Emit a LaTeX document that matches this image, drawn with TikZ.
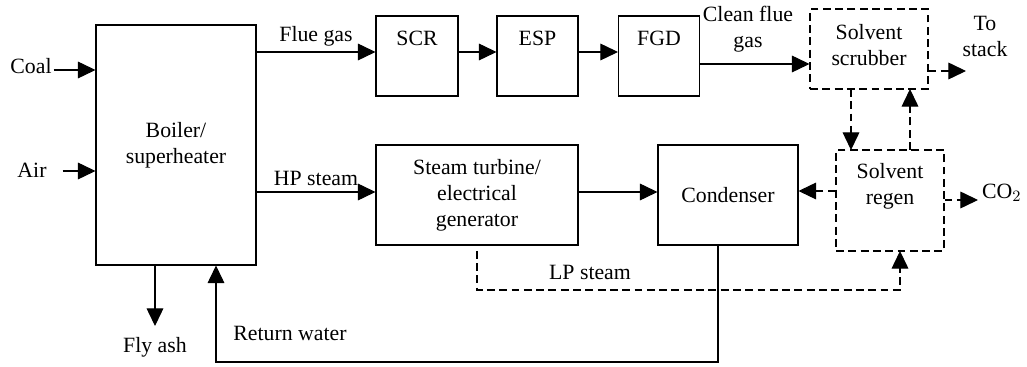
\documentclass[tikz,border=0pt]{standalone}
\usepackage{fontspec}
\setmainfont{Liberation Serif}
\usetikzlibrary{arrows.meta,calc}

\begin{document}
\begin{tikzpicture}[
  x=0.02cm, y=-0.02cm,
  font=\fontsize{12.4pt}{14.8pt}\selectfont,
  unit/.style={rectangle, draw, line width=0.6pt, align=center, inner sep=2pt},
  dunit/.style={unit, dash pattern=on 4.5pt off 2.5pt},
  arrow/.style={-{Triangle[length=10pt, width=9.5pt]}, line width=0.6pt},
  darrow/.style={arrow, dash pattern=on 4.5pt off 2.5pt},
  txt/.style={inner sep=1pt, align=center},
]
\useasboundingbox (0,0) rectangle (1027,367);

% === UNITS ===
\node[unit, minimum width=3.2cm, minimum height=4.8cm] (boiler) at (176,145) {Boiler/\\superheater};
\node[unit, minimum width=1.64cm, minimum height=1.6cm,
  label={[anchor=north, inner sep=0pt, yshift=-8.5pt]north:SCR}] (scr) at (417,56) {};
\node[unit, minimum width=1.62cm, minimum height=1.6cm,
  label={[anchor=north, inner sep=0pt, yshift=-8.5pt]north:ESP}] (esp) at (537.5,56) {};
\node[unit, minimum width=1.62cm, minimum height=1.6cm,
  label={[anchor=north, inner sep=0pt, yshift=-8.5pt]north:FGD}] (fgd) at (659,56) {};
\node[unit, minimum width=4.04cm, minimum height=2.0cm] (turb) at (477,195) {Steam turbine/\\electrical\\generator};
\node[unit, minimum width=2.8cm, minimum height=2.0cm] (cond) at (728,195) {Condenser};
\node[dunit, minimum width=2.36cm, minimum height=1.6cm,
  label={[align=center, yshift=2.5pt]center:Solvent\\scrubber}] (scrub) at (869,49) {};
\node[dunit, minimum width=2.16cm, minimum height=2.02cm,
  label={[align=center, yshift=8pt]center:Solvent\\regen}] (regen) at (890,200.5) {};

% === FEEDS ===
\node[txt] (coal) at (31,66) {Coal};
\node[txt] (air) at (32,170) {Air};
\draw[arrow] (coal.east |- 0,70) -- (boiler.west |- 0,70);
\draw[arrow] ([xshift=8pt]air.east |- 0,171) -- (boiler.west |- 0,171);

% === GAS SIDE ===
\draw[arrow] (boiler.east |- 0,52) -- node[above, txt, yshift=2pt] {Flue gas} (scr.west |- 0,52);
\draw[arrow] (scr.east |- 0,52) -- (esp.west |- 0,52);
\draw[arrow] (esp.east |- 0,52) -- (fgd.west |- 0,52);
\draw[arrow] (fgd.east |- 0,64) -- (scrub.west |- 0,64);
\node[txt] (cleanlbl) at (748,29) {Clean flue\\gas};
\coordinate (stack) at (966,71);
\draw[darrow] (scrub.east |- stack) -- (stack);
\node[txt] (stacklbl) at (985,36) {To\\stack};

% === SOLVENT LOOP ===
\draw[darrow] (851,89) -- (851,150);
\draw[darrow] (910,150) -- (910,89);
\draw[darrow] (regen.west |- 0,191) -- (cond.east |- 0,191);
\coordinate (co2) at (978,200);
\draw[darrow] (regen.east |- co2) -- (co2);
\node[txt, anchor=west] (co2lbl) at (980,193) {CO$_2$};

% === STEAM SIDE ===
\draw[arrow] (boiler.east |- 0,192) -- node[above, txt, yshift=2pt] {HP steam} (turb.west |- 0,192);
\draw[arrow] (turb.east |- 0,192) -- (cond.west |- 0,192);
\draw[darrow] ([yshift=-3pt]turb.south) |- (900,290) -- (900,251);
\node[txt] (lplbl) at (590,272) {LP steam};

% === ASH AND RETURN WATER ===
\coordinate (ash) at (155,326);
\draw[arrow] (boiler.south -| ash) -- (ash);
\node[txt] (ashlbl) at (155,347) {Fly ash};
\coordinate (rw) at (216,362);
\draw[arrow] (cond.south -| 718,0) |- (rw) -- (rw |- boiler.south);
\node[txt] (rwlbl) at (290,333) {Return water};
\end{tikzpicture}
\end{document}
